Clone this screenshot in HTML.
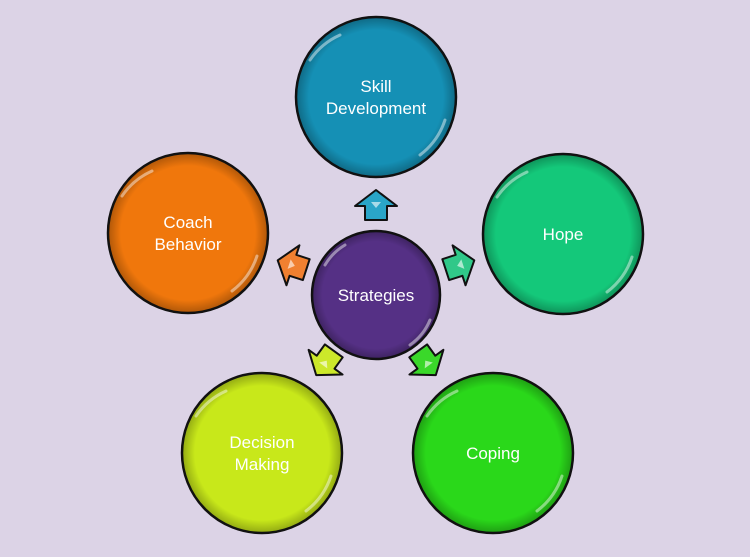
<!DOCTYPE html>
<html><head><style>
html,body{margin:0;padding:0;background:#dcd3e6;}
svg{display:block}
text{font-family:"Liberation Sans",sans-serif;fill:#fff;font-size:17px;text-anchor:middle}
</style></head><body>
<svg width="750" height="557" viewBox="0 0 750 557">
<defs>
<radialGradient id="sh" cx="0.5" cy="0.5" r="0.5">
<stop offset="0.85" stop-color="#000" stop-opacity="0"/>
<stop offset="1" stop-color="#000" stop-opacity="0.25"/>
</radialGradient>
<g id="arr"><polygon points="0,-15 21,1 11,1 11,15 -11,15 -11,1 -21,1" stroke="#111" stroke-width="2" stroke-linejoin="round"/><polygon points="-5,-3 5,-3 0,3" fill="#fff" opacity="0.6"/></g>
</defs>
<rect width="750" height="557" fill="#dcd3e6"/>
<g stroke="#111" stroke-width="2.5">
<circle cx="376" cy="97" r="80" fill="#1590b5"/>
<circle cx="563" cy="234" r="80" fill="#14c87a"/>
<circle cx="493" cy="453" r="80" fill="#2ad81a"/>
<circle cx="262" cy="453" r="80" fill="#c8e81a"/>
<circle cx="188" cy="233" r="80" fill="#f0770c"/>
<circle cx="376" cy="295" r="64" fill="#553085"/>
</g>
<g fill="url(#sh)">
<circle cx="376" cy="97" r="79"/><circle cx="563" cy="234" r="79"/><circle cx="493" cy="453" r="79"/><circle cx="262" cy="453" r="79"/><circle cx="188" cy="233" r="79"/><circle cx="376" cy="295" r="63"/>
</g>
<g fill="none" stroke="#fff" stroke-opacity="0.45" stroke-width="3" stroke-linecap="round">
<path d="M310,60 A72,72 0 0 1 340,35"/><path d="M445,120 A72,72 0 0 1 420,155"/>
<path d="M497,197 A72,72 0 0 1 527,172"/><path d="M632,257 A72,72 0 0 1 607,292"/>
<path d="M427,416 A72,72 0 0 1 457,391"/><path d="M562,476 A72,72 0 0 1 537,511"/>
<path d="M196,416 A72,72 0 0 1 226,391"/><path d="M331,476 A72,72 0 0 1 306,511"/>
<path d="M122,196 A72,72 0 0 1 152,171"/><path d="M257,256 A72,72 0 0 1 232,291"/>
<path d="M325,265 A57,57 0 0 1 345,245"/><path d="M430,320 A57,57 0 0 1 410,345"/>
</g>
<use href="#arr" transform="translate(376,205)" fill="#2aa5c8"/>
<use href="#arr" transform="translate(460,265) rotate(72)" fill="#30c889"/>
<use href="#arr" transform="translate(427,363) rotate(144)" fill="#3ad82a"/>
<use href="#arr" transform="translate(325,363) rotate(-144)" fill="#cce82a"/>
<use href="#arr" transform="translate(292,265) rotate(-72)" fill="#f08030"/>
<text x="376" y="92">Skill</text><text x="376" y="114">Development</text>
<text x="563" y="240">Hope</text>
<text x="493" y="459">Coping</text>
<text x="262" y="448">Decision</text><text x="262" y="470">Making</text>
<text x="188" y="228">Coach</text><text x="188" y="250">Behavior</text>
<text x="376" y="301">Strategies</text>
</svg>
</body></html>
